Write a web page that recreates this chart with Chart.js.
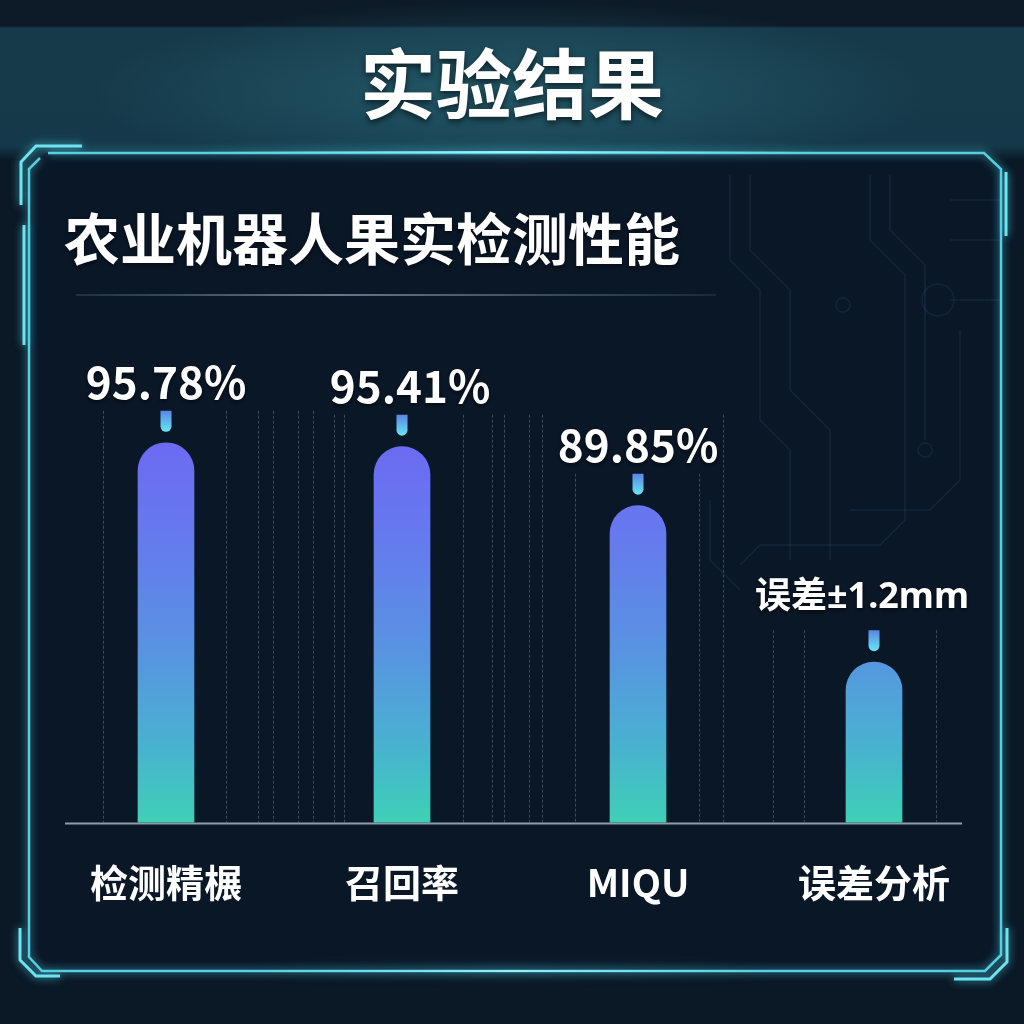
<!DOCTYPE html>
<html>
<head>
<meta charset="utf-8">
<script src="https://cdn.jsdelivr.net/npm/chart.js@4.4.1/dist/chart.umd.min.js"></script>
<style>
  html, body { margin:0; padding:0; }
  body {
    width:1024px; height:1024px; overflow:hidden; position:relative;
    background:
      radial-gradient(ellipse 420px 90px at 512px 92px, rgba(40,100,115,0.75), rgba(20,55,70,0.0) 100%),
      linear-gradient(180deg, #0d1b28 0px, #0d1b28 26px, #173a4a 28px, #15394a 146px, #0b1826 160px, #0b1826 1024px);
    font-family: "Noto Sans CJK SC", "Noto Sans", sans-serif;
  }
  #c { position:absolute; left:0; top:0; }
  .t { position:absolute; color:#fff; font-weight:700; line-height:1; white-space:nowrap; }
  #title { left:0; width:1024px; text-align:center; top:42px; font-size:76px; text-shadow:0 3px 6px rgba(0,0,0,0.6); }
  #sub { left:64px; top:208px; font-size:56px; text-shadow:0 2px 4px rgba(0,0,0,0.5); }
  #divider { position:absolute; left:76px; top:294px; width:640px; height:2px;
    background:linear-gradient(90deg, rgba(120,150,170,0.2), rgba(150,175,190,0.65) 40%, rgba(120,150,170,0.15)); }
</style>
</head>
<body>
<canvas id="c" width="1024" height="1024"></canvas>
<div id="title" class="t">实验结果</div>
<div id="sub" class="t">农业机器人果实检测性能</div>
<div id="divider"></div>
<script>
// ---- data ----
const categories = ["检测精榐", "召回率", "MIQU", "误差分析"];
// bar heights (last bar: error bar, height)
const barValues = [95.78, 95.41, 89.85, 75.1];
const valueLabels = ["95.78%", "95.41%", "89.85%", "误差±1.2mm"];
const yMin = 60;
const yMax = 100;

// ---- decorative helpers ----
// decorative vertical guide lines: [bar index, offset px from bar centre, bar index whose marker sets the line top]
const guideLines = [
  [0,-63,0],[0,60,0],[0,92,0],[0,107,0],[0,132,0],[0,147,0],
  [1,-68,1],[1,-58,1],[1,61,1],[1,90,1],[1,102,1],[1,127,1],[1,140,1],
  [2,-63,2],[2,61,2],[2,85,1],
  [3,-101,3],[3,-70,3],[3,62,3]
];

const framePlugin = {
  id: 'frame',
  beforeDraw(chart) {
    const ctx = chart.ctx;
    ctx.save();
    // panel interior
    ctx.beginPath();
    ctx.moveTo(46,153); ctx.lineTo(984,153); ctx.lineTo(1001,169); ctx.lineTo(1001,955);
    ctx.lineTo(985,971); ctx.lineTo(42,971); ctx.lineTo(29,957); ctx.lineTo(29,169); ctx.closePath();
    ctx.fillStyle = '#0a1727';
    ctx.fill();

    // faint circuit decoration
    ctx.strokeStyle = 'rgba(70,120,150,0.16)';
    ctx.lineWidth = 1.5;
    const paths = [
      [[730,175],[730,260],[760,290],[760,420],[790,450],[790,560]],
      [[750,175],[750,250],[790,290],[790,390],[830,430],[830,560]],
      [[870,175],[870,240],[905,275],[905,520],[880,545],[760,545],[740,565]],
      [[890,175],[890,230],[925,265],[925,440]],
      [[960,330],[960,480],[930,510],[850,510]],
      [[710,500],[710,560],[740,590]],
      [[950,200],[1000,200]],[[950,240],[1000,240]],[[950,300],[1000,300]]
    ];
    for (const p of paths) {
      ctx.beginPath();
      ctx.moveTo(p[0][0], p[0][1]);
      for (let i = 1; i < p.length; i++) ctx.lineTo(p[i][0], p[i][1]);
      ctx.stroke();
    }
    ctx.beginPath(); ctx.arc(843,305,7,0,Math.PI*2); ctx.stroke();
    ctx.beginPath(); ctx.arc(938,300,16,0,Math.PI*2); ctx.stroke();
    ctx.beginPath(); ctx.arc(925,450,7,0,Math.PI*2); ctx.stroke();

    // main frame with glow
    ctx.shadowColor = 'rgba(80,220,240,0.9)';
    ctx.shadowBlur = 8;
    ctx.strokeStyle = '#56cfe0';
    ctx.lineWidth = 2.5;
    ctx.beginPath();
    ctx.moveTo(48,153); ctx.lineTo(984,153); ctx.lineTo(1001,169); ctx.lineTo(1001,955);
    ctx.lineTo(985,971); ctx.lineTo(42,971); ctx.lineTo(29,957); ctx.lineTo(29,169); ctx.lineTo(40,158);
    ctx.stroke();
    // accents
    ctx.lineWidth = 3;
    ctx.strokeStyle = '#6fe3f0';
    ctx.beginPath(); ctx.moveTo(82,146); ctx.lineTo(36,146); ctx.lineTo(21,162); ctx.lineTo(21,205); ctx.stroke();
    ctx.beginPath(); ctx.moveTo(24,225); ctx.lineTo(24,345); ctx.stroke();
    ctx.beginPath(); ctx.moveTo(1006,172); ctx.lineTo(1006,236); ctx.stroke();
    ctx.beginPath(); ctx.moveTo(20,928); ctx.lineTo(20,960); ctx.lineTo(36,976); ctx.lineTo(60,976); ctx.stroke();
    ctx.beginPath(); ctx.moveTo(1007,928); ctx.lineTo(1007,962); ctx.lineTo(990,979); ctx.lineTo(954,979); ctx.stroke();
    // bright glow along top centre
    const g = ctx.createLinearGradient(200,0,824,0);
    g.addColorStop(0,'rgba(140,240,255,0)');
    g.addColorStop(0.5,'rgba(170,245,255,0.95)');
    g.addColorStop(1,'rgba(140,240,255,0)');
    ctx.strokeStyle = g; ctx.lineWidth = 2; ctx.shadowBlur = 14;
    ctx.beginPath(); ctx.moveTo(200,152); ctx.lineTo(824,152); ctx.stroke();
    const g2 = ctx.createLinearGradient(250,0,774,0);
    g2.addColorStop(0,'rgba(140,240,255,0)');
    g2.addColorStop(0.5,'rgba(170,245,255,0.8)');
    g2.addColorStop(1,'rgba(140,240,255,0)');
    ctx.strokeStyle = g2;
    ctx.beginPath(); ctx.moveTo(250,971); ctx.lineTo(774,971); ctx.stroke();
    ctx.restore();
  },
  beforeDatasetsDraw(chart) {
    const ctx = chart.ctx;
    const meta = chart.getDatasetMeta(0);
    const area = chart.chartArea;
    ctx.save();
    ctx.strokeStyle = 'rgba(140,160,180,0.38)';
    ctx.lineWidth = 1;
    ctx.setLineDash([3,2]);
    for (const [bi, dx, ti] of guideLines) {
      const x = Math.round(meta.data[bi].x + dx) + 0.5;
      const top = meta.data[ti].y - 32;
      ctx.beginPath(); ctx.moveTo(x, top); ctx.lineTo(x, area.bottom); ctx.stroke();
    }
    ctx.setLineDash([]);
    // axis line
    ctx.strokeStyle = '#8d9daa';
    ctx.lineWidth = 2;
    ctx.beginPath(); ctx.moveTo(area.left + 17, area.bottom + 1); ctx.lineTo(area.right - 30, area.bottom + 1); ctx.stroke();
    ctx.restore();
  },
  afterDatasetsDraw(chart) {
    const ctx = chart.ctx;
    const meta = chart.getDatasetMeta(0);
    ctx.save();
    meta.data.forEach((bar, i) => {
      // marker pill
      const w = 11, r = w / 2, yTop = bar.y - 32, yBot = bar.y - 11;
      const pg = ctx.createLinearGradient(0, yTop, 0, yBot);
      pg.addColorStop(0, '#5a86e6');
      pg.addColorStop(1, '#66e6f2');
      ctx.fillStyle = pg;
      ctx.beginPath();
      ctx.moveTo(bar.x - r, yTop); ctx.lineTo(bar.x + r, yTop); ctx.lineTo(bar.x + r, yBot - r);
      ctx.arc(bar.x, yBot - r, r, 0, Math.PI); ctx.closePath(); ctx.fill();
      // value label
      const isPct = valueLabels[i].endsWith('%');
      ctx.font = isPct ? '700 44px "Noto Sans CJK SC", sans-serif'
                       : '700 36px "Noto Sans", "Noto Sans CJK SC", sans-serif';
      ctx.fillStyle = '#ffffff';
      ctx.textAlign = 'center';
      ctx.textBaseline = 'middle';
      ctx.shadowColor = 'rgba(0,0,0,0.55)';
      ctx.shadowBlur = 4; ctx.shadowOffsetY = 2;
      ctx.fillText(valueLabels[i], bar.x + (isPct ? (i === 1 ? 8 : 0) : -12), bar.y - (isPct ? 60 : 64));
      ctx.shadowColor = 'transparent';
    });
    ctx.restore();
  }
};

Chart.defaults.font.family = '"Noto Sans CJK SC", "Noto Sans", sans-serif';

new Chart(document.getElementById('c'), {
  type: 'bar',
  data: {
    labels: categories,
    datasets: [{
      data: barValues,
      barThickness: 56,
      borderRadius: 28,
      borderSkipped: 'start',
      backgroundColor(ctx) {
        const area = ctx.chart.chartArea;
        if (!area) return '#5a8ee6';
        const g = ctx.chart.ctx.createLinearGradient(0, area.top + 40, 0, area.bottom);
        g.addColorStop(0, '#6c6af2');
        g.addColorStop(0.25, '#6679ee');
        g.addColorStop(0.55, '#5893e2');
        g.addColorStop(0.8, '#48b2d0');
        g.addColorStop(1, '#3fd0b6');
        return g;
      }
    }]
  },
  options: {
    responsive: false,
    animation: false,
    devicePixelRatio: 1,
    layout: { padding: { left: 48, right: 32, top: 398, bottom: 90 } },
    plugins: { legend: { display: false }, tooltip: { enabled: false }, title: { display: false } },
    scales: {
      x: {
        grid: { display: false },
        border: { display: false },
        ticks: { color: '#ffffff', padding: 29, font: { size: 38, weight: '700' } }
      },
      y: { display: false, min: yMin, max: yMax }
    }
  },
  plugins: [framePlugin]
});
</script>
</body>
</html>
